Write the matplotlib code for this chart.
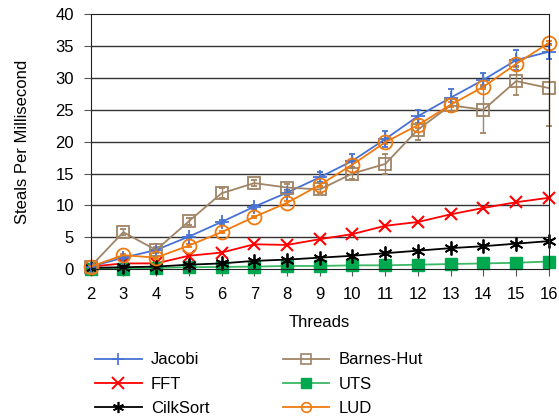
import numpy as np
import matplotlib.pyplot as plt
from matplotlib.lines import Line2D

plt.rcParams['font.family'] = ['Liberation Sans', 'DejaVu Sans']

threads = np.arange(2, 17)

jacobi = [0.4, 1.8, 3.0, 5.1, 7.4, 9.8, 12.0, 14.4, 17.0, 20.4, 24.0, 26.9, 29.7, 32.8, 34.1]
jacobi_err = [0.1, 0.2, 0.2, 0.3, 0.3, 0.3, 0.4, 0.8, 1.0, 1.3, 1.0, 1.3, 1.1, 1.6, 1.2]
barnes = [0.4, 5.8, 3.0, 7.5, 11.9, 13.5, 12.8, 12.5, 15.0, 16.5, 21.9, 25.7, 25.0, 29.5, 28.4]
barnes_err = [0.1, 0.5, 0.4, 0.5, 0.8, 0.5, 0.6, 0.6, 0.9, 1.6, 1.6, 1.0, 3.7, 2.2, 6.0]
fft = [0.4, 0.9, 0.9, 2.1, 2.6, 3.9, 3.8, 4.7, 5.5, 6.8, 7.4, 8.6, 9.6, 10.5, 11.2]
uts = [0.1, 0.1, 0.2, 0.3, 0.35, 0.4, 0.5, 0.5, 0.6, 0.6, 0.7, 0.8, 0.9, 1.0, 1.2]
cilksort = [0.2, 0.3, 0.4, 0.7, 0.9, 1.3, 1.5, 1.8, 2.1, 2.5, 2.9, 3.3, 3.6, 4.0, 4.4]
lud = [0.4, 2.2, 1.8, 3.7, 5.8, 8.2, 10.4, 13.2, 16.4, 19.9, 22.6, 25.8, 28.6, 32.2, 35.5]
lud_err = [0.1, 0.2, 0.2, 0.2, 0.2, 0.2, 0.3, 0.3, 0.4, 0.3, 0.4, 0.4, 0.3, 0.4, 0.3]

c_jac, c_bh, c_fft = '#4672d4', '#a08466', '#ff0000'
c_uts_line, c_uts, c_cs, c_lud = '#3cb864', '#00a84f', '#000000', '#ee7a10'

fig = plt.figure(figsize=(5.59, 4.16), dpi=100)
ax = fig.add_axes([0.162, 0.353, 0.820, 0.613])

for y in range(5, 40, 5):
    ax.axhline(y, color='#333333', lw=1.0, zorder=0)

kw = dict(capsize=2, elinewidth=1, lw=1.3, clip_on=False)
ax.errorbar(threads, jacobi, yerr=jacobi_err, color=c_jac, marker='+',
            ms=10, mew=1.3, **kw)
ax.errorbar(threads, barnes, yerr=barnes_err, color=c_bh, marker='s',
            ms=9, mfc='none', mew=1.3, **kw)
ax.plot(threads, fft, color=c_fft, marker='x', ms=9, mew=1.5, lw=1.3, clip_on=False)
ax.plot(threads, uts, color=c_uts_line, marker='s', ms=8, mfc=c_uts,
        mec=c_uts, lw=1.3, clip_on=False)
ax.plot(threads, cilksort, color=c_cs, marker=(6, 2, 0), ms=10, mew=1.3,
        lw=1.3, clip_on=False)
ax.errorbar(threads, lud, yerr=lud_err, color=c_lud, marker='o', ms=10,
            mfc='none', mew=1.3, **kw)

ax.set_xlim(2, 16)
ax.set_ylim(0, 40)
ax.set_xticks(threads)
ax.set_yticks(range(0, 41, 5))
ax.tick_params(labelsize=12, direction='out', length=5, color='#555555')
ax.tick_params(axis='x', pad=8)
ax.tick_params(axis='y', pad=7)
for s in ax.spines.values():
    s.set_color('#222222')
ax.set_xlabel('Threads', fontsize=12, labelpad=9)
ax.set_ylabel('Steals Per Millisecond', fontsize=12, labelpad=18)

handles = [
    Line2D([], [], color=c_jac, marker='+', ms=8, mew=1.2, lw=1.3),
    Line2D([], [], color=c_fft, marker='x', ms=8, mew=1.4, lw=1.3),
    Line2D([], [], color=c_cs, marker=(6, 2, 0), ms=8, mew=1.2, lw=1.3),
    Line2D([], [], color=c_bh, marker='s', ms=7, mfc='none', mew=1.2, lw=1.3),
    Line2D([], [], color=c_uts_line, marker='s', ms=7, mfc=c_uts, mec=c_uts, lw=1.3),
    Line2D([], [], color=c_lud, marker='o', ms=7, mfc='none', mew=1.2, lw=1.3),
]
labels = ['Jacobi', 'FFT', 'CilkSort', 'Barnes-Hut', 'UTS', 'LUD']
fig.legend(handles, labels, ncol=2, loc='upper left', bbox_to_anchor=(0.170, 0.153),
           frameon=False, fontsize=12, handlelength=2.8, handletextpad=0.55,
           columnspacing=4.4, labelspacing=0.55, borderpad=0, borderaxespad=0)

fig.savefig('out.png', dpi=100)
